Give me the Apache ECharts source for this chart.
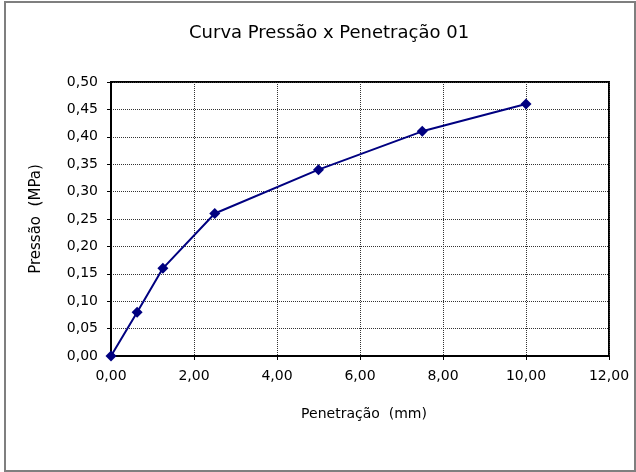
<!DOCTYPE html>
<html>
<head>
<meta charset="utf-8">
<script src="https://cdn.jsdelivr.net/npm/echarts@6/dist/echarts.min.js"></script>
<style>
  html, body { margin: 0; padding: 0; background: #fff; }
  #main { width: 636px; height: 472px; }
</style>
</head>
<body>
<div id="main"></div>
<script>
// dados
var penetracao = [0, 0.63, 1.25, 2.5, 5, 7.5, 10];
var pressao = [0, 0.08, 0.16, 0.26, 0.34, 0.41, 0.46];

var fonte = "DejaVu Sans, Arial, sans-serif";

function virgula(v) {
  return v.toFixed(2).replace(".", ",");
}

var pontos = [];
for (var i = 0; i < penetracao.length; i++) {
  pontos.push([penetracao[i], pressao[i]]);
}

var myChart = echarts.init(document.getElementById("main"));
var option = {
  backgroundColor: "#ffffff",
  animation: false,
  textStyle: { fontFamily: fonte },
  title: {
    text: "Curva Pressão x Penetração 01",
    left: 184,
    top: 19,
    textStyle: {
      fontWeight: "normal",
      fontSize: 18,
      color: "#000",
      fontFamily: fonte
    }
  },
  graphic: [
    {
      type: "rect",
      shape: { x: 5, y: 2, width: 630, height: 469 },
      style: { fill: "none", stroke: "#7f7f7f", lineWidth: 2 },
      silent: true
    }
  ],
  grid: {
    left: 111,
    right: 27,
    top: 82,
    bottom: 116,
    show: true,
    borderColor: "#000",
    borderWidth: 2,
    backgroundColor: "transparent"
  },
  xAxis: {
    type: "value",
    min: 0,
    max: 12,
    interval: 2,
    name: "Penetração  (mm)",
    nameLocation: "middle",
    nameGap: 51,
    nameTextStyle: { fontSize: 14, color: "#000", padding: [0, 0, 0, 8] },
    axisLine: { show: true, lineStyle: { color: "#000", width: 2 } },
    axisTick: { show: true, length: 4, lineStyle: { color: "#000" } },
    axisLabel: {
      fontSize: 14,
      color: "#000",
      margin: 13,
      formatter: virgula
    },
    splitLine: {
      show: true,
      lineStyle: { type: "dotted", color: "#333", width: 1 }
    }
  },
  yAxis: {
    type: "value",
    min: 0,
    max: 0.5,
    interval: 0.05,
    name: "Pressão  (MPa)",
    nameLocation: "middle",
    nameGap: 67,
    nameRotate: 90,
    nameTextStyle: { fontSize: 15, color: "#000" },
    axisLine: { show: true, lineStyle: { color: "#000", width: 2 } },
    axisTick: { show: true, length: 4, lineStyle: { color: "#000" } },
    axisLabel: {
      fontSize: 14,
      color: "#000",
      margin: 13,
      formatter: virgula
    },
    splitLine: {
      show: true,
      lineStyle: { type: "dotted", color: "#333", width: 1 }
    }
  },
  series: [
    {
      name: "Pressão",
      type: "line",
      data: pontos,
      symbol: "diamond",
      symbolSize: 11,
      showAllSymbol: true,
      clip: false,
      lineStyle: { color: "#000080", width: 2 },
      itemStyle: { color: "#000080" }
    }
  ]
};
myChart.setOption(option);
</script>
</body>
</html>
